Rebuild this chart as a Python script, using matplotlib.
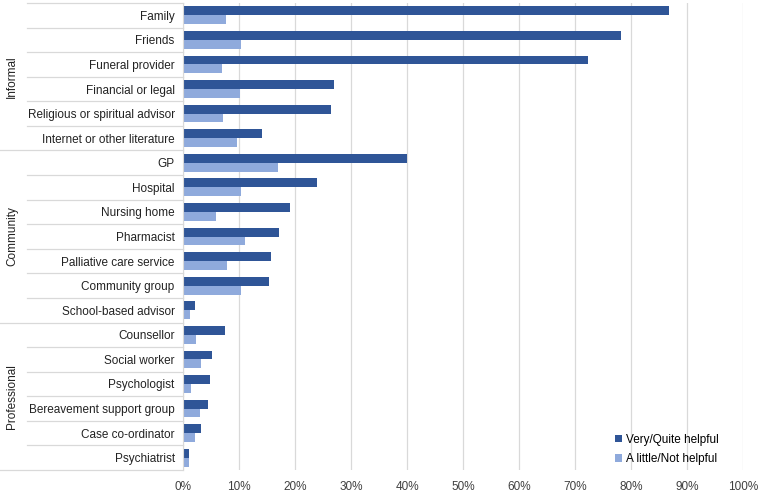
import matplotlib.pyplot as plt
import numpy as np
from matplotlib.transforms import blended_transform_factory

plt.rcParams['font.family'] = ['Liberation Sans', 'DejaVu Sans']

categories = ['Family', 'Friends', 'Funeral provider', 'Financial or legal',
              'Religious or spiritual advisor', 'Internet or other literature',
              'GP', 'Hospital', 'Nursing home', 'Pharmacist',
              'Palliative care service', 'Community group', 'School-based advisor',
              'Counsellor', 'Social worker', 'Psychologist',
              'Bereavement support group', 'Case co-ordinator', 'Psychiatrist']
very_helpful = [86.8, 78.2, 72.3, 27.0, 26.4, 14.1,
                40.0, 24.0, 19.1, 17.1, 15.7, 15.4, 2.1,
                7.5, 5.1, 4.9, 4.5, 3.3, 1.1]
little_helpful = [7.6, 10.3, 6.9, 10.2, 7.2, 9.6,
                  17.0, 10.3, 5.9, 11.0, 7.9, 10.3, 1.2,
                  2.3, 3.2, 1.4, 3.1, 2.1, 1.0]
groups = ['Informal', 'Community', 'Professional']
group_sizes = [6, 7, 6]
xticks = [0, 10, 20, 30, 40, 50, 60, 70, 80, 90, 100]

dark = '#2F5597'
light = '#8FAADC'
fs = 8.5

fig = plt.figure(figsize=(7.63, 4.92), dpi=100)
ax = fig.add_axes([183 / 763, 22 / 492, 560 / 763, 467 / 492])

y = np.arange(len(categories))
h = 0.36
ax.barh(y - h / 2, very_helpful, height=h, color=dark, label='Very/Quite helpful')
ax.barh(y + h / 2, little_helpful, height=h, color=light, label='A little/Not helpful')

ax.set_ylim(len(categories) - 0.5, -0.5)
ax.set_xlim(0, 100)
ax.set_xticks(xticks)
ax.set_xticklabels([f'{t}%' for t in xticks], fontsize=fs, color='#404040')
ax.set_yticks(y)
ax.set_yticklabels(categories, fontsize=fs, color='#222222')
ax.tick_params(axis='both', length=0)
ax.tick_params(axis='y', pad=6)
ax.tick_params(axis='x', pad=8)
ax.xaxis.grid(True, color='#D9D9D9', linewidth=0.9)
ax.set_axisbelow(True)
for s in ['top', 'right', 'bottom']:
    ax.spines[s].set_visible(False)
ax.spines['left'].set_color('#D9D9D9')

# separators and group labels on the left
tr = blended_transform_factory(fig.transFigure, ax.transData)
x_axis = 183 / 763
x_short = 27 / 763
start = 0
for gname, n in zip(groups, group_sizes):
    for k in range(start, start + n - 1):
        ax.plot([x_short, x_axis], [k + 0.5, k + 0.5], transform=tr,
                color='#D9D9D9', linewidth=0.9, clip_on=False)
    ax.plot([0, x_axis], [start + n - 0.5] * 2, transform=tr,
            color='#D9D9D9', linewidth=0.9, clip_on=False)
    ax.text(12 / 763, start + (n - 1) / 2, gname, transform=tr, rotation=90,
            ha='center', va='center', fontsize=fs, color='#222222')
    start += n
ax.plot([x_short, x_axis], [-0.5, -0.5], transform=tr,
        color='#D9D9D9', linewidth=0.9, clip_on=False)

ax.legend(loc='lower right', bbox_to_anchor=(0.975, -0.012), frameon=False,
          fontsize=fs, handlelength=0.6, handleheight=0.6, handletextpad=0.3,
          labelspacing=0.6)

fig.savefig('out.png', dpi=100)
